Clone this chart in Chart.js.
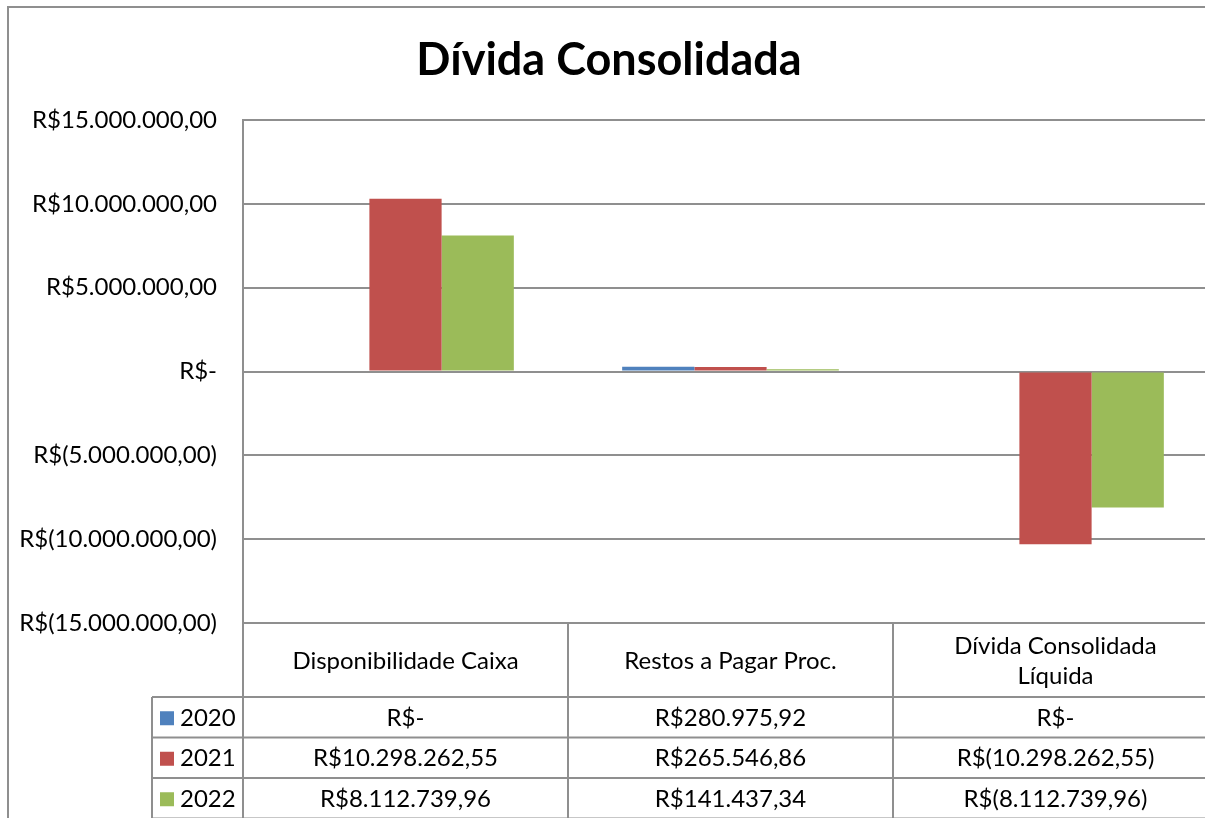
<!DOCTYPE html>
<html>
<head>
<meta charset="utf-8">
<script src="https://cdn.jsdelivr.net/npm/chart.js@4/dist/chart.umd.min.js"></script>
<style>
  html, body { margin: 0; padding: 0; overflow: hidden; background: #fff; }
  #wrap { width: 1230px; height: 818px; position: relative; }
</style>
</head>
<body>
<div id="wrap"><canvas id="c"></canvas></div>
<script>
const categories = [['Disponibilidade Caixa'], ['Restos a Pagar Proc.'], ['Dívida Consolidada', 'Líquida']];
const seriesNames = ['2020', '2021', '2022'];
const values2020 = [0, 280975.92, 0];
const values2021 = [10298262.55, 265546.86, -10298262.55];
const values2022 = [8112739.96, 141437.34, -8112739.96];
const seriesColors = ['#4F81BD', '#C0504D', '#9BBB59'];
const yMin = -15000000, yMax = 15000000, yStep = 5000000;
const titleText = 'Dívida Consolidada';

const FONT = 'Lato, "Open Sans", sans-serif';
const LINE = '#8f8f8f';

function brl(v) {
  if (Math.abs(v) < 0.005) return 'R$-';
  const abs = Math.abs(v);
  let [i, d] = abs.toFixed(2).split('.');
  i = i.replace(/\B(?=(\d{3})+(?!\d))/g, '.');
  const body = i + ',' + d;
  return v < 0 ? 'R$(' + body + ')' : 'R$' + body;
}

const allSeries = [values2020, values2021, values2022];

const framePlugin = {
  id: 'frame',
  beforeDraw(chart) {
    const ctx = chart.ctx;
    ctx.save();
    ctx.strokeStyle = LINE;
    ctx.lineWidth = 2;
    ctx.beginPath();
    ctx.moveTo(8, 830);
    ctx.lineTo(8, 7);
    ctx.lineTo(chart.width, 7);
    ctx.stroke();
    ctx.restore();
  }
};

const tablePlugin = {
  id: 'dataTable',
  afterDraw(chart) {
    const ctx = chart.ctx;
    const area = chart.chartArea;
    const xs = chart.scales.x;
    const n = categories.length;
    const colW = (area.right - area.left) / n;
    const headTop = area.bottom;
    const headBot = headTop + 74;
    const rowH = 40.5;
    const legendLeft = area.left - 91;
    ctx.save();
    ctx.strokeStyle = LINE;
    ctx.lineWidth = 2;
    ctx.beginPath();
    for (let r = 0; r <= seriesNames.length; r++) {
      const y = headBot + r * rowH;
      ctx.moveTo(legendLeft, y);
      ctx.lineTo(chart.width, y);
    }
    ctx.stroke();
    ctx.beginPath();
    for (let i = 0; i <= n; i++) {
      const x = xs.getPixelForValue(Math.min(i, n - 1)) + (i === n ? colW / 2 : -colW / 2);
      ctx.moveTo(x, headTop);
      ctx.lineTo(x, chart.height + 5);
    }
    ctx.moveTo(legendLeft, headBot);
    ctx.lineTo(legendLeft, chart.height + 5);
    ctx.stroke();

    ctx.fillStyle = '#000';
    ctx.font = '24px ' + FONT;
    ctx.textAlign = 'center';
    ctx.textBaseline = 'middle';
    categories.forEach((lines, i) => {
      const cx = xs.getPixelForValue(i);
      const mid = (headTop + headBot) / 2 + 1;
      const lh = 30;
      lines.forEach((t, k) => {
        ctx.fillText(t, cx, mid + (k - (lines.length - 1) / 2) * lh);
      });
    });
    seriesNames.forEach((name, r) => {
      const cy = headBot + r * rowH + rowH / 2 + 1;
      ctx.fillStyle = seriesColors[r];
      ctx.fillRect(legendLeft + 8, cy - 7, 14, 14);
      ctx.fillStyle = '#000';
      ctx.textAlign = 'left';
      ctx.fillText(name, legendLeft + 28, cy);
      ctx.textAlign = 'center';
      allSeries[r].forEach((v, i) => {
        ctx.fillText(brl(v), xs.getPixelForValue(i), cy);
      });
    });
    ctx.restore();
  }
};

new Chart(document.getElementById('c'), {
  type: 'bar',
  data: {
    labels: categories,
    datasets: seriesNames.map((name, k) => ({
      label: name,
      data: allSeries[k],
      backgroundColor: seriesColors[k],
      borderWidth: 0,
      categoryPercentage: 0.6667,
      barPercentage: 1
    }))
  },
  options: {
    responsive: true,
    maintainAspectRatio: false,
    animation: false,
    layout: { padding: { left: 0, right: 12, top: 0, bottom: 195 } },
    plugins: {
      legend: { display: false },
      tooltip: { enabled: false },
      title: {
        display: true,
        text: titleText,
        color: '#000',
        font: { family: FONT, size: 45, weight: 'bold' },
        padding: { top: 33, bottom: 33 }
      }
    },
    scales: {
      x: {
        display: false,
        offset: true
      },
      y: {
        min: yMin,
        max: yMax,
        afterFit(scale) { scale.width = 243; },
        grid: { color: LINE, lineWidth: 2, drawTicks: false },
        border: { color: LINE, width: 2 },
        ticks: {
          stepSize: yStep,
          padding: 26,
          color: '#000',
          font: { family: FONT, size: 24 },
          callback: (v) => brl(v)
        }
      }
    }
  },
  plugins: [framePlugin, tablePlugin]
});
</script>
</body>
</html>
